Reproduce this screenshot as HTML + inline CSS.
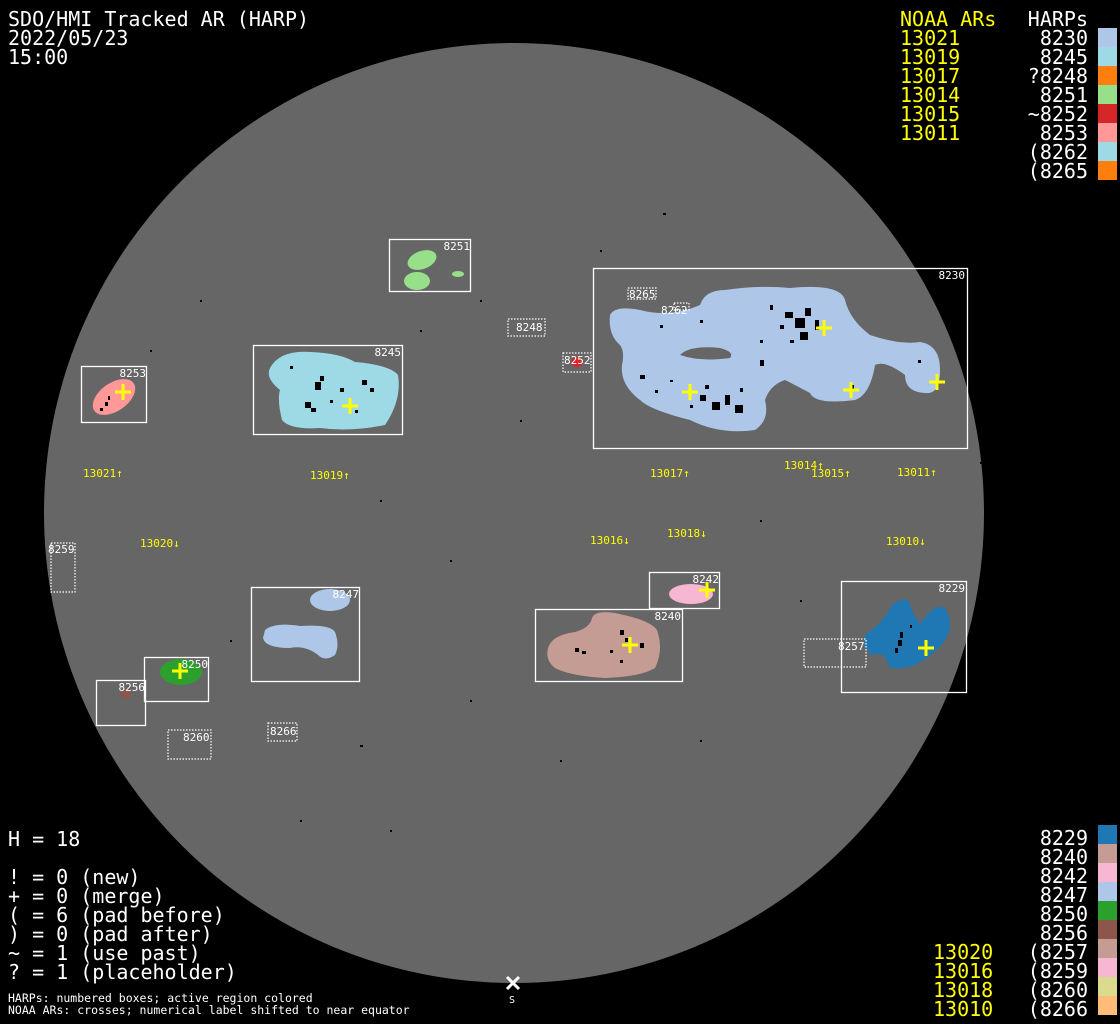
<!DOCTYPE html>
<html><head><meta charset="utf-8"><style>
html,body{margin:0;padding:0;background:#000;}
svg{display:block}
text{font-family:"DejaVu Sans Mono","Liberation Mono",monospace;}
.w{fill:#fff}.y{fill:#ffff00}
.big{font-size:20px}.sm{font-size:11.5px}.lab{font-size:11px}
.bx{fill:none;stroke:#fff;stroke-width:1.3}
.dt{fill:none;stroke:#fff;stroke-width:1.2;stroke-dasharray:1.5 1.5}
.cr{stroke:#ffff00;stroke-width:3;fill:none}
.k{fill:#000}
</style></head><body>
<svg width="1120" height="1024" viewBox="0 0 1120 1024" xmlns="http://www.w3.org/2000/svg">
<rect width="1120" height="1024" fill="#000"/>
<circle cx="514" cy="513" r="470" fill="#666"/>
<g class="k">
<rect x="663" y="213" width="3" height="2"/><rect x="600" y="250" width="2" height="2"/><rect x="480" y="300" width="2" height="2"/><rect x="420" y="330" width="2" height="2"/><rect x="200" y="300" width="2" height="2"/><rect x="150" y="350" width="2" height="2"/><rect x="520" y="420" width="2" height="2"/><rect x="450" y="560" width="2" height="2"/><rect x="380" y="500" width="2" height="2"/><rect x="760" y="520" width="2" height="2"/><rect x="800" y="600" width="2" height="2"/><rect x="470" y="700" width="2" height="2"/><rect x="560" y="760" width="2" height="2"/><rect x="700" y="740" width="2" height="2"/><rect x="360" y="745" width="3" height="2"/><rect x="230" y="640" width="2" height="2"/><rect x="980" y="462" width="2" height="2"/><rect x="300" y="820" width="2" height="2"/><rect x="390" y="830" width="2" height="2"/>
</g>

<!-- 8230 blob -->
<path fill="#aec7e8" d="M610,315 Q615,305 640,310 Q670,318 700,305 Q705,290 725,290 Q760,285 790,288 Q840,283 845,300 Q850,320 870,335 Q900,345 920,342 Q940,345 940,370 Q940,395 925,393 Q905,392 905,375 Q885,360 875,365 Q870,395 855,400 Q815,405 810,393 Q795,385 785,380 Q770,385 765,400 Q770,420 755,430 Q720,435 690,420 Q650,410 640,400 Q620,385 622,365 Q625,352 620,345 Q608,335 610,315 Z"/>
<path fill="#666" d="M680,355 Q690,345 720,348 Q735,352 730,358 Q700,362 680,355 Z"/>
<g class="k">
<rect x="785" y="312" width="8" height="6"/><rect x="795" y="318" width="10" height="10"/><rect x="805" y="308" width="6" height="8"/><rect x="800" y="332" width="8" height="8"/><rect x="780" y="325" width="4" height="4"/><rect x="815" y="320" width="4" height="10"/><rect x="770" y="305" width="3" height="5"/><rect x="790" y="340" width="4" height="3"/>
<rect x="700" y="395" width="6" height="6"/><rect x="712" y="402" width="8" height="8"/><rect x="725" y="395" width="5" height="10"/><rect x="735" y="405" width="8" height="8"/><rect x="705" y="385" width="4" height="4"/><rect x="690" y="405" width="3" height="3"/><rect x="740" y="388" width="3" height="4"/>
<rect x="660" y="325" width="3" height="3"/><rect x="700" y="320" width="3" height="3"/><rect x="850" y="385" width="4" height="4"/>
<rect x="640" y="375" width="5" height="4"/><rect x="760" y="360" width="4" height="6"/><rect x="655" y="390" width="3" height="3"/><rect x="670" y="380" width="3" height="2"/><rect x="760" y="340" width="3" height="3"/><rect x="918" y="360" width="3" height="3"/>
</g>
<rect class="bx" x="593.5" y="268.5" width="374" height="180"/>
<text class="w lab" x="965" y="279" text-anchor="end">8230</text>
<rect class="dt" x="628" y="288" width="28" height="11"/><text class="w lab" x="629" y="298">8265</text>
<rect class="dt" x="674" y="303" width="15" height="7"/><text class="w lab" x="661" y="314">8262</text>
<path class="cr" d="M816,328h16M824,320v16M682,392h16M690,384v16M843,390h16M851,382v16M929,382h16M937,374v16"/>

<!-- 8245 -->
<path fill="#9edae5" d="M270,368 Q280,350 310,352 Q340,353 355,362 Q390,365 398,375 Q402,400 385,425 Q350,432 320,428 Q290,430 282,420 Q277,400 280,390 Q265,378 270,368 Z"/>
<g class="k"><rect x="315" y="382" width="6" height="8"/><rect x="320" y="376" width="4" height="5"/><rect x="305" y="402" width="6" height="6"/><rect x="311" y="408" width="5" height="4"/><rect x="340" y="388" width="4" height="4"/><rect x="362" y="380" width="5" height="5"/><rect x="370" y="388" width="4" height="4"/><rect x="290" y="366" width="3" height="3"/><rect x="330" y="400" width="3" height="3"/><rect x="355" y="410" width="3" height="3"/></g>
<rect class="bx" x="253.5" y="345.5" width="149" height="89"/>
<text class="w lab" x="401" y="356" text-anchor="end">8245</text>
<path class="cr" d="M342,406h16M350,398v16"/>

<!-- 8253 -->
<ellipse cx="114" cy="397" rx="24" ry="14" fill="#ff9896" transform="rotate(-35 114 397)"/>
<g class="k"><rect x="108" y="396" width="2" height="4"/><rect x="105" y="402" width="3" height="4"/><rect x="100" y="408" width="3" height="3"/></g>
<rect class="bx" x="81.5" y="366.5" width="65" height="56"/>
<text class="w lab" x="146" y="377" text-anchor="end">8253</text>
<path class="cr" d="M115,392h16M123,384v16"/>

<!-- 8251 -->
<ellipse cx="422" cy="260" rx="15" ry="9" fill="#98df8a" transform="rotate(-20 422 260)"/>
<ellipse cx="417" cy="281" rx="13" ry="9" fill="#98df8a"/>
<ellipse cx="458" cy="274" rx="6" ry="3" fill="#98df8a"/>
<rect class="bx" x="389.5" y="239.5" width="81" height="52"/>
<text class="w lab" x="470" y="250" text-anchor="end">8251</text>

<rect class="dt" x="508" y="319" width="37" height="17"/><text class="w lab" x="516" y="331">8248</text>
<ellipse cx="577" cy="362" rx="6" ry="5" fill="#d62728"/>
<rect class="dt" x="563" y="353" width="28" height="19"/><text class="w lab" x="564" y="364">8252</text>

<rect class="dt" x="51" y="543" width="24" height="49"/><text class="w lab" x="48" y="553">8259</text>

<!-- 8247 -->
<ellipse cx="330" cy="600" rx="20" ry="11" fill="#aec7e8"/>
<path fill="#aec7e8" d="M265,630 Q275,622 300,626 Q330,624 335,632 Q340,645 335,655 Q325,662 318,655 Q305,645 290,648 Q265,648 263,638 Z"/>
<rect class="bx" x="251.5" y="587.5" width="108" height="94"/>
<text class="w lab" x="359" y="598" text-anchor="end">8247</text>

<!-- 8250 -->
<ellipse cx="181" cy="672" rx="21" ry="13" fill="#2ca02c"/>
<rect class="bx" x="144.5" y="657.5" width="64" height="44"/>
<text class="w lab" x="208" y="668" text-anchor="end">8250</text>
<path class="cr" d="M172,671h16M180,663v16"/>

<!-- 8256 -->
<ellipse cx="126" cy="694" rx="5" ry="5" fill="#8c564b"/>
<rect class="bx" x="96.5" y="680.5" width="49" height="45"/>
<text class="w lab" x="145" y="691" text-anchor="end">8256</text>

<rect class="dt" x="168" y="730" width="43" height="29"/><text class="w lab" x="183" y="741">8260</text>
<rect class="dt" x="268" y="723" width="29" height="18"/><text class="w lab" x="270" y="735">8266</text>

<!-- 8242 -->
<ellipse cx="691" cy="594" rx="22" ry="10" fill="#f7b6d2"/>
<rect class="bx" x="649.5" y="572.5" width="70" height="36"/>
<text class="w lab" x="719" y="583" text-anchor="end">8242</text>
<path class="cr" d="M699,590h16M707,582v16"/>

<!-- 8240 -->
<path fill="#c49c94" d="M548,648 Q552,635 575,632 Q590,628 592,618 Q595,610 615,613 Q650,620 657,630 Q664,650 655,668 Q640,677 605,678 Q570,676 555,668 Q545,660 548,648 Z"/>
<g class="k"><rect x="575" y="648" width="4" height="4"/><rect x="582" y="651" width="4" height="3"/><rect x="620" y="630" width="4" height="5"/><rect x="625" y="638" width="3" height="4"/><rect x="640" y="643" width="4" height="5"/><rect x="610" y="650" width="3" height="3"/><rect x="620" y="660" width="3" height="3"/></g>
<rect class="bx" x="535.5" y="609.5" width="147" height="72"/>
<text class="w lab" x="681" y="620" text-anchor="end">8240</text>
<path class="cr" d="M622,645h16M630,637v16"/>

<!-- 8229 -->
<path fill="#1f77b4" d="M865,635 Q880,625 888,612 Q895,598 908,600 Q912,612 920,624 Q935,602 945,608 Q955,625 945,640 Q935,655 915,665 Q895,672 888,665 Q885,650 873,655 Q862,650 865,635 Z"/>
<g class="k"><rect x="900" y="632" width="3" height="6"/><rect x="898" y="640" width="4" height="6"/><rect x="895" y="648" width="3" height="5"/><rect x="910" y="625" width="2" height="3"/></g>
<rect class="bx" x="841.5" y="581.5" width="125" height="111"/>
<text class="w lab" x="965" y="592" text-anchor="end">8229</text>
<rect class="dt" x="804" y="639" width="62" height="28"/><text class="w lab" x="838" y="650">8257</text>
<path class="cr" d="M918,648h16M926,640v16"/>

<!-- NOAA labels -->
<g class="y lab">
<text x="83" y="477">13021↑</text><text x="310" y="479">13019↑</text>
<text x="650" y="477">13017↑</text><text x="784" y="469">13014↑</text>
<text x="811" y="477">13015↑</text><text x="897" y="476">13011↑</text>
<text x="140" y="547">13020↓</text><text x="590" y="544">13016↓</text>
<text x="667" y="537">13018↓</text><text x="886" y="545">13010↓</text>
</g>

<!-- south marker -->
<path d="M507,977L519,989M519,977L507,989" stroke="#fff" stroke-width="3"/>
<text class="w" x="509" y="1003" style="font-size:10px">S</text>

<!-- top-left -->
<g class="w big"><text x="8" y="26">SDO/HMI Tracked AR (HARP)</text><text x="8" y="45">2022/05/23</text><text x="8" y="64">15:00</text></g>

<!-- top-right legend -->
<g class="big">
<text class="y" x="900" y="26">NOAA ARs</text><text class="w" x="1088" y="26" text-anchor="end">HARPs</text>
<text class="y" x="900" y="45">13021</text><text class="y" x="900" y="64">13019</text><text class="y" x="900" y="83">13017</text>
<text class="y" x="900" y="102">13014</text><text class="y" x="900" y="121">13015</text><text class="y" x="900" y="140">13011</text>
<g class="w" text-anchor="end">
<text x="1088" y="45">8230</text><text x="1088" y="64">8245</text><text x="1088" y="83">?8248</text><text x="1088" y="102">8251</text>
<text x="1088" y="121">~8252</text><text x="1088" y="140">8253</text><text x="1088" y="159">(8262</text><text x="1088" y="178">(8265</text>
</g></g>
<rect x="1098" y="28" width="19" height="19" fill="#aec7e8"/><rect x="1098" y="47" width="19" height="19" fill="#9edae5"/>
<rect x="1098" y="66" width="19" height="19" fill="#ff7f0e"/><rect x="1098" y="85" width="19" height="19" fill="#98df8a"/>
<rect x="1098" y="104" width="19" height="19" fill="#d62728"/><rect x="1098" y="123" width="19" height="19" fill="#ff9896"/>
<rect x="1098" y="142" width="19" height="19" fill="#9edae5"/><rect x="1098" y="161" width="19" height="19" fill="#ff7f0e"/>

<!-- bottom-left -->
<g class="w big">
<text x="8" y="846">H = 18</text>
<text x="8" y="884">! = 0 (new)</text><text x="8" y="903">+ = 0 (merge)</text><text x="8" y="922">( = 6 (pad before)</text>
<text x="8" y="941">) = 0 (pad after)</text><text x="8" y="960">~ = 1 (use past)</text><text x="8" y="979">? = 1 (placeholder)</text>
</g>
<g class="w sm"><text x="8" y="1002">HARPs: numbered boxes; active region colored</text><text x="8" y="1014">NOAA ARs: crosses; numerical label shifted to near equator</text></g>

<!-- bottom-right -->
<g class="big">
<g class="w" text-anchor="end">
<text x="1088" y="845">8229</text><text x="1088" y="864">8240</text><text x="1088" y="883">8242</text><text x="1088" y="902">8247</text>
<text x="1088" y="921">8250</text><text x="1088" y="940">8256</text><text x="1088" y="959">(8257</text><text x="1088" y="978">(8259</text>
<text x="1088" y="997">(8260</text><text x="1088" y="1016">(8266</text>
</g>
<text class="y" x="933" y="959">13020</text><text class="y" x="933" y="978">13016</text><text class="y" x="933" y="997">13018</text><text class="y" x="933" y="1016">13010</text>
</g>
<rect x="1098" y="825" width="19" height="19" fill="#1f77b4"/><rect x="1098" y="844" width="19" height="19" fill="#c49c94"/>
<rect x="1098" y="863" width="19" height="19" fill="#f7b6d2"/><rect x="1098" y="882" width="19" height="19" fill="#aec7e8"/>
<rect x="1098" y="901" width="19" height="19" fill="#2ca02c"/><rect x="1098" y="920" width="19" height="19" fill="#8c564b"/>
<rect x="1098" y="939" width="19" height="19" fill="#c49c94"/><rect x="1098" y="958" width="19" height="19" fill="#f7b6d2"/>
<rect x="1098" y="977" width="19" height="19" fill="#dbdb8d"/><rect x="1098" y="996" width="19" height="19" fill="#ffbb78"/>
</svg>
</body></html>
